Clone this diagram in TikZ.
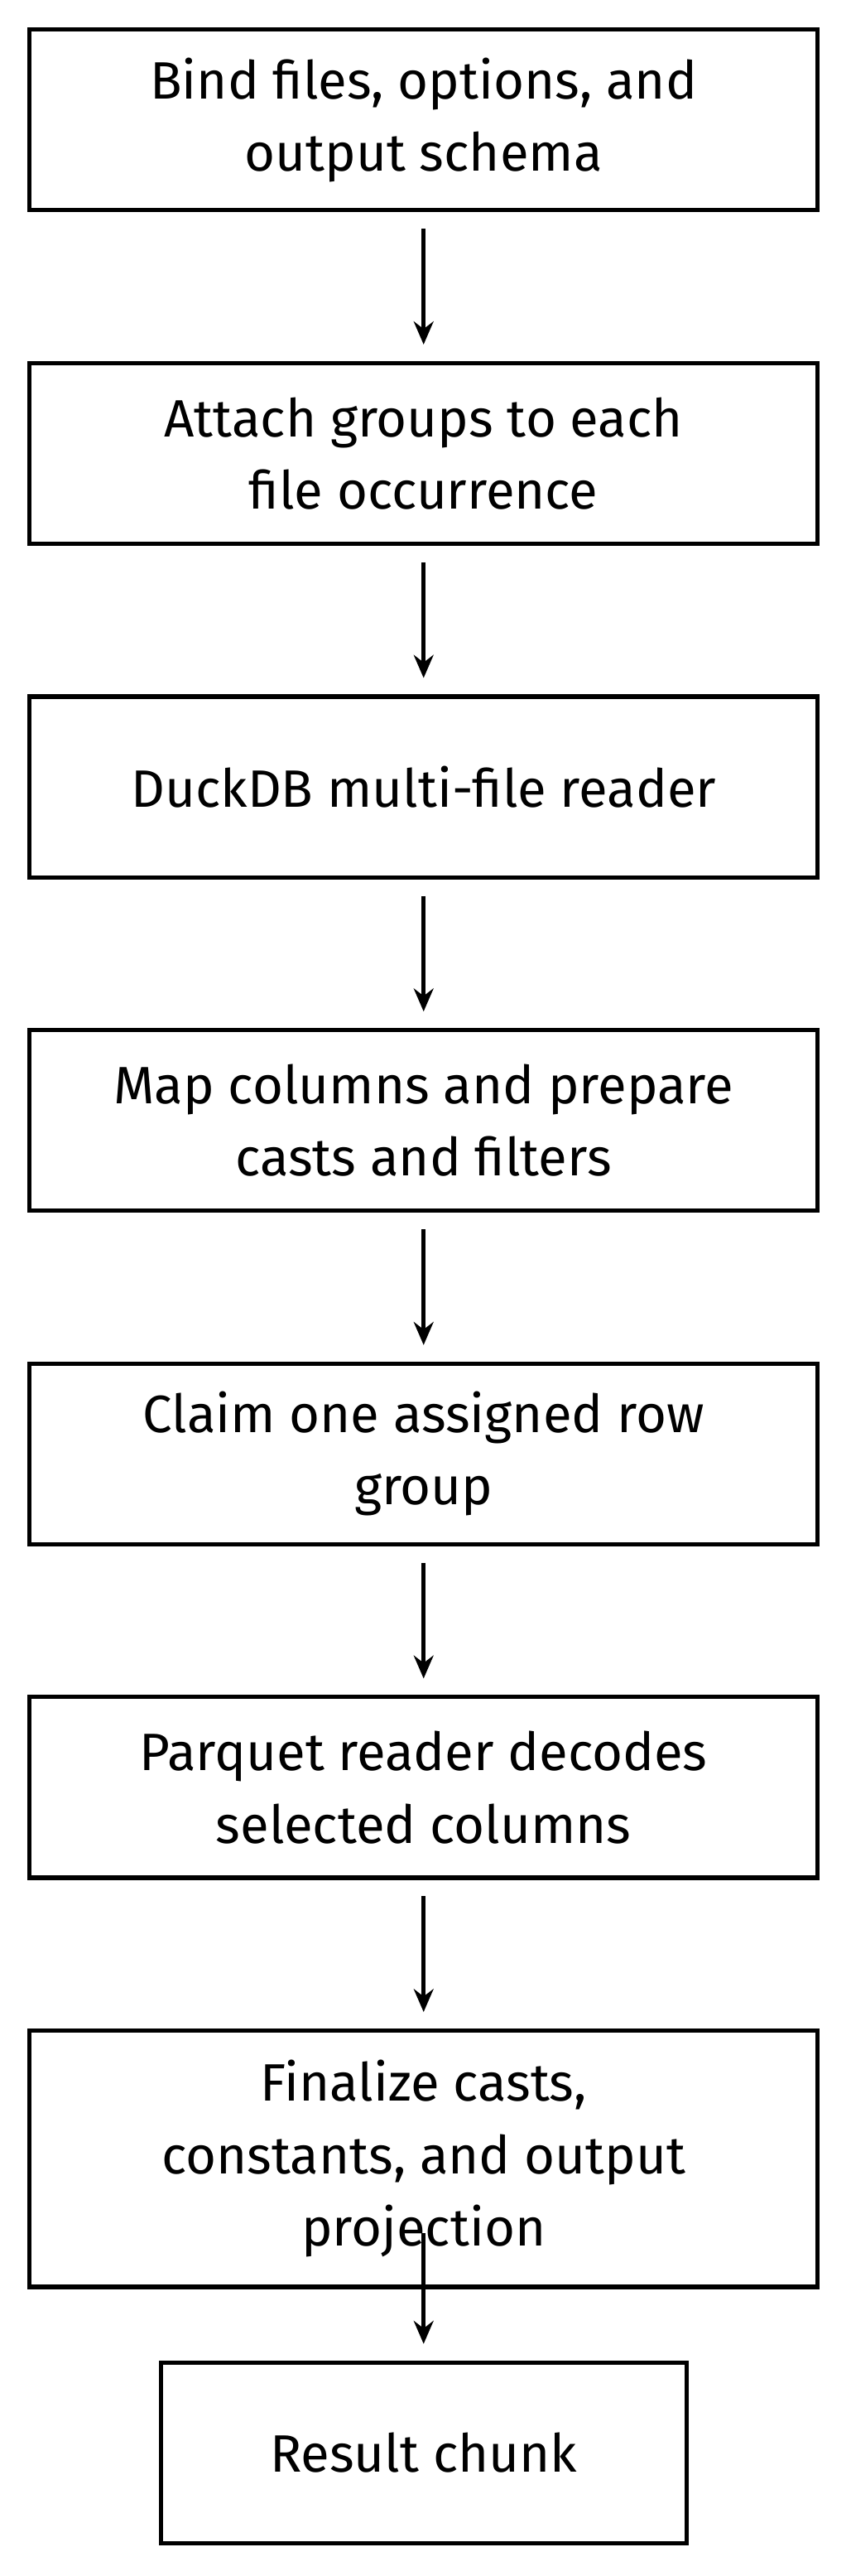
\documentclass[tikz,border=0pt]{standalone}
\usepackage{fontspec}
\setmainfont{Fira Sans}
\usepackage{tikz}
\tikzset{>=latex}
\usetikzlibrary{arrows.meta}
\begin{document}
\begin{tikzpicture}[x=1pt,y=-1pt]
            \tikzset{step/.style={draw, line width=2.6pt, minimum width=480pt, minimum height=#1, inner sep=0pt, align=center, font={\fontsize{32}{44}\selectfont}}}
            \tikzset{flow/.style={->, line width=2.6pt, -{Stealth[length=14pt, width=12pt]}, shorten <=10pt, shorten >=10pt}}
            \useasboundingbox (0, 0) rectangle (518, 1568);
            \node[step=110pt] (bind) at (258, 73) {Bind files, options, and\\output schema};
            \node[step=110pt] (attach) at (258, 276) {Attach groups to each\\file occurrence};
            \node[step=110pt] (reader) at (258, 479) {DuckDB multi-file reader};
            \node[step=110pt] (map) at (258, 682) {Map columns and prepare\\casts and filters};
            \node[step=110pt] (claim) at (258, 885) {Claim one assigned row\\group};
            \node[step=110pt] (decode) at (258, 1088) {Parquet reader decodes\\selected columns};
            \node[step=156pt] (final) at (258, 1314) {Finalize casts,\\constants, and output\\projection};
            \node[step=110pt, minimum width=320pt] (chunk) at (258, 1493) {Result chunk};
            \draw[flow] (bind) -- (attach);
            \draw[flow] (attach) -- (reader);
            \draw[flow] (reader) -- (map);
            \draw[flow] (map) -- (claim);
            \draw[flow] (claim) -- (decode);
            \draw[flow] (decode) -- (final);
            \draw[flow, shorten <=-34pt] (final) -- (chunk);
\end{tikzpicture}
\end{document}
